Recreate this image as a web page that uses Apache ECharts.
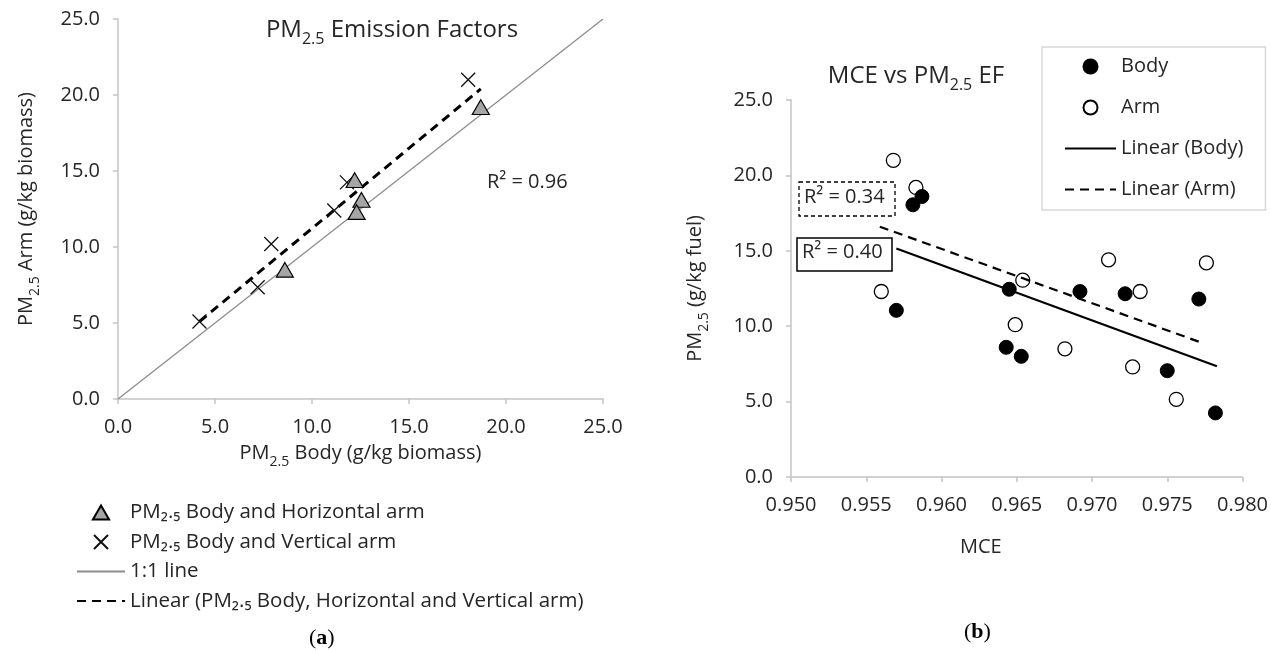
<!DOCTYPE html>
<html>
<head>
<meta charset="utf-8">
<script src="https://cdn.jsdelivr.net/npm/echarts@6/dist/echarts.min.js"></script>
<style>
  html, body { margin: 0; padding: 0; background: #fff; }
  #main { width: 1271px; height: 651px; }
</style>
</head>
<body>
<div id="main"></div>
<script>
// (a) PM2.5 排放因子
var horizBody = [18.7, 12.2, 12.55, 12.3, 8.6];
var horizArm = [19.2, 14.4, 13.1, 12.3, 8.5];
var vertBody = [18.05, 11.8, 11.15, 7.9, 7.2, 4.2];
var vertArm = [21.0, 14.25, 12.4, 10.2, 7.35, 5.1];
var oneLineX = [0, 25];
var oneLineY = [0, 25];
var trendAX = [4.2, 18.7];
var trendAY = [5.1, 20.4];
var ticksA = [0, 5, 10, 15, 20, 25];

// (b) MCE vs PM2.5 EF
var bodyMce = [0.9581, 0.9587, 0.9570, 0.9645, 0.9643, 0.9653, 0.9692, 0.9722, 0.9771, 0.9750, 0.9782];
var bodyPm = [18.05, 18.6, 11.05, 12.45, 8.6, 8.0, 12.3, 12.15, 11.8, 7.05, 4.25];
var armMce = [0.9568, 0.9583, 0.9560, 0.9654, 0.9649, 0.9711, 0.9682, 0.9732, 0.9727, 0.9776, 0.9756];
var armPm = [21.0, 19.2, 12.3, 13.05, 10.1, 14.4, 8.5, 12.3, 7.3, 14.2, 5.15];
var bodyFitX = [0.9570, 0.9783];
var bodyFitY = [15.15, 7.35];
var armFitX = [0.9559, 0.9773];
var armFitY = [16.6, 8.9];
var ticksBX = [0.950, 0.955, 0.960, 0.965, 0.970, 0.975, 0.980];
var ticksBY = [0, 5, 10, 15, 20, 25];

function pairs(xs, ys) {
     var out = [];
     for (var i = 0; i < xs.length; i++) {
          out.push([xs[i], ys[i]]);
     }
     return out;
}

var FONT = 'Open Sans';
var TXT = '#262626';
var AXIS = '#c4c4c4';
var TRI = 'path://M5,0L10,8.66L0,8.66Z';

// 下标用的富文本
function richSub(size, sub, drop) {
     return {
          t: { fontSize: size, fontWeight: 'normal', lineHeight: 26, verticalAlign: 'top', fontFamily: FONT, color: TXT },
          s: { fontSize: sub, fontWeight: 'normal', lineHeight: 16, padding: [drop, 0, 0, 0], verticalAlign: 'top', fontFamily: FONT, color: TXT }
     };
}

function valueAxis(grid, ticks, digits, extra) {
     var ax = {
          type: 'value',
          gridIndex: grid,
          min: ticks[0],
          max: ticks[ticks.length - 1],
          interval: ticks[1] - ticks[0],
          splitLine: { show: false },
          axisLine: { show: true, lineStyle: { color: AXIS, width: 1.5 } },
          axisTick: { show: true, length: 5, lineStyle: { color: AXIS, width: 1.5 } },
          axisLabel: {
               margin: 18,
               fontSize: 20,
               fontFamily: FONT,
               color: TXT,
               formatter: function (v) { return v.toFixed(digits); }
          }
     };
     for (var k in extra) ax[k] = extra[k];
     return ax;
}

var chart = echarts.init(document.getElementById('main'));

// 图号 (a)(b)，字母加粗
var panelLabel = {
     t: { fontSize: 22, fontFamily: 'Liberation Serif', fontWeight: 'normal', fill: '#000' },
     b: { fontSize: 22, fontFamily: 'Liberation Serif', fontWeight: 'bold', fill: '#000' }
};

var option = {
     animation: false,
     backgroundColor: '#fff',
     title: [{
          text: '{t|PM}{s|2.5}{t| Emission Factors}',
          left: 387, top: 13, textAlign: 'center',
          textStyle: { rich: richSub(24, 16, 13) }
     }, {
          text: '{t|MCE vs PM}{s|2.5}{t| EF}',
          left: 911, top: 59, textAlign: 'center',
          textStyle: { rich: richSub(24, 16, 13) }
     }],
     grid: [
          { left: 118, top: 19, width: 485, height: 380 },
          { left: 791, top: 100, width: 452, height: 377 }
     ],
     xAxis: [
          valueAxis(0, ticksA, 1, {
               name: '{t|PM}{s|2.5}{t| Body (g/kg biomass)}',
               nameLocation: 'middle', nameGap: 44,
               nameTextStyle: { rich: richSub(20, 14, 12) }
          }),
          valueAxis(1, ticksBX, 3, {
               name: 'MCE',
               nameLocation: 'middle', nameGap: 60,
               nameTextStyle: { fontSize: 20, fontFamily: FONT, color: TXT, padding: [0, 72, 0, 0] }
          })
     ],
     yAxis: [
          valueAxis(0, ticksA, 1, {
               name: '{t|PM}{s|2.5}{t| Arm (g/kg biomass)}',
               nameLocation: 'middle', nameGap: 76,
               nameTextStyle: { rich: richSub(20, 14, 12) }
          }),
          valueAxis(1, ticksBY, 1, {
               name: '{t|PM}{s|2.5}{t| (g/kg fuel)}',
               nameLocation: 'middle', nameGap: 80,
               nameTextStyle: { rich: richSub(20, 14, 12) }
          })
     ],
     legend: [{
          orient: 'vertical',
          left: 76, top: 501,
          padding: 0,
          symbolKeepAspect: true,
          itemWidth: 48, itemHeight: 14, itemGap: 6.5,
          textStyle: { fontSize: 20.5, lineHeight: 23, fontFamily: FONT, color: TXT },
          data: [
               { name: 'PM₂.₅ Body and Horizontal arm' },
               { name: 'PM₂.₅ Body and Vertical arm' },
               { name: '1:1 line', itemStyle: { opacity: 0 } },
               { name: 'Linear (PM₂.₅ Body, Horizontal and Vertical arm)', itemStyle: { opacity: 0 } }
          ]
     }, {
          orient: 'vertical',
          left: 1042, top: 47,
          padding: [8, 22, 9, 22],
          borderColor: '#d9d9d9', borderWidth: 1.5,
          itemWidth: 51, itemHeight: 14, itemGap: 18,
          textStyle: { fontSize: 20, lineHeight: 23, fontFamily: FONT, color: TXT },
          data: [
               { name: 'Body' },
               { name: 'Arm' },
               { name: 'Linear (Body)', itemStyle: { opacity: 0 } },
               { name: 'Linear (Arm)', itemStyle: { opacity: 0 } }
          ]
     }],
     graphic: [
          { type: 'text', left: 487, top: 172, style: { text: 'R² = 0.96', fontSize: 20, fontFamily: FONT, fill: TXT } },
          { type: 'rect', shape: { x: 799, y: 182, width: 96, height: 34 }, style: { fill: '#fff', stroke: '#000', lineWidth: 1.3, lineDash: [4, 3] }, z: 10 },
          { type: 'text', left: 804, top: 187, style: { text: 'R² = 0.34', fontSize: 20, fontFamily: FONT, fill: TXT }, z: 11 },
          { type: 'rect', shape: { x: 797, y: 238, width: 95, height: 33 }, style: { fill: '#fff', stroke: '#000', lineWidth: 1.5 }, z: 10 },
          { type: 'text', left: 802, top: 242, style: { text: 'R² = 0.40', fontSize: 20, fontFamily: FONT, fill: TXT }, z: 11 },
          { type: 'text', left: 309, top: 627, style: { text: '{t|(}{b|a}{t|)}', rich: panelLabel } },
          { type: 'text', left: 964, top: 621, style: { text: '{t|(}{b|b}{t|)}', rich: panelLabel } }
     ],
     series: [{
          name: '1:1 line',
          type: 'line',
          xAxisIndex: 0, yAxisIndex: 0,
          symbol: 'none',
          data: pairs(oneLineX, oneLineY),
          lineStyle: { color: '#8c8c8c', width: 1.3 },
          itemStyle: { color: '#8c8c8c' },
          z: 1
     }, {
          name: 'Linear (PM₂.₅ Body, Horizontal and Vertical arm)',
          type: 'line',
          xAxisIndex: 0, yAxisIndex: 0,
          symbol: 'none',
          data: pairs(trendAX, trendAY),
          lineStyle: { color: '#000', width: 3, type: [9, 6] },
          itemStyle: { color: '#000' },
          z: 2
     }, {
          name: 'PM₂.₅ Body and Vertical arm',
          type: 'scatter',
          xAxisIndex: 0, yAxisIndex: 0,
          symbol: 'path://M0,0L10,10M10,0L0,10',
          symbolSize: 14,
          data: pairs(vertBody, vertArm),
          itemStyle: { color: 'rgba(0,0,0,0)', borderColor: '#111', borderWidth: 1.3, opacity: 1 },
          z: 3
     }, {
          name: 'PM₂.₅ Body and Horizontal arm',
          type: 'scatter',
          xAxisIndex: 0, yAxisIndex: 0,
          symbol: TRI,
          symbolKeepAspect: true,
          symbolSize: 17,
          data: pairs(horizBody, horizArm),
          itemStyle: { color: '#a5a5a5', borderColor: '#000', borderWidth: 1.2, opacity: 1 },
          z: 4
     }, {
          name: 'Arm',
          type: 'scatter',
          xAxisIndex: 1, yAxisIndex: 1,
          symbol: 'circle',
          symbolSize: 14,
          data: pairs(armMce, armPm),
          itemStyle: { color: '#fff', borderColor: '#000', borderWidth: 1.3, opacity: 1 },
          z: 3
     }, {
          name: 'Body',
          type: 'scatter',
          xAxisIndex: 1, yAxisIndex: 1,
          symbol: 'circle',
          symbolSize: 14,
          data: pairs(bodyMce, bodyPm),
          itemStyle: { color: '#000', borderColor: '#000', borderWidth: 1, opacity: 1 },
          z: 4
     }, {
          name: 'Linear (Body)',
          type: 'line',
          xAxisIndex: 1, yAxisIndex: 1,
          symbol: 'none',
          data: pairs(bodyFitX, bodyFitY),
          lineStyle: { color: '#000', width: 2.2 },
          itemStyle: { color: '#000' },
          z: 5
     }, {
          name: 'Linear (Arm)',
          type: 'line',
          xAxisIndex: 1, yAxisIndex: 1,
          symbol: 'none',
          data: pairs(armFitX, armFitY),
          lineStyle: { color: '#000', width: 2.2, type: [9, 6] },
          itemStyle: { color: '#000' },
          z: 5
     }]
};

chart.setOption(option);
</script>
</body>
</html>
